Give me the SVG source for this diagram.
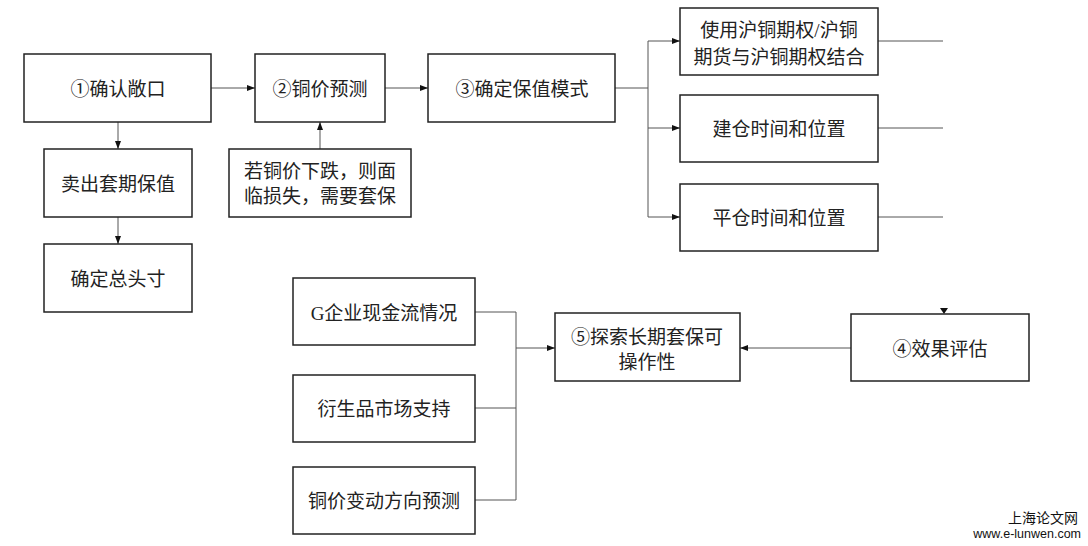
<svg xmlns="http://www.w3.org/2000/svg" width="1088" height="546" viewBox="0 0 1088 546">
<style>
.box{fill:#fff;stroke:#222;stroke-width:1.5}
.t{font-family:"Liberation Serif","Noto Sans CJK SC",serif;font-size:19px;fill:#222;text-anchor:middle;dominant-baseline:central}
.c{fill:none;stroke:#555;stroke-width:1}
.wm{font-family:"Liberation Sans","Noto Sans CJK SC",sans-serif;fill:#111;text-anchor:end}
</style>
<defs>
<marker id="ah" viewBox="0 0 8 8" refX="8" refY="4" markerWidth="8" markerHeight="8" markerUnits="userSpaceOnUse" orient="auto">
<path d="M0,1 L8,4 L0,7 z" fill="#111"/>
</marker>
</defs>
<rect width="1088" height="546" fill="#fff"/>
<g id="connectors">
<path class="c" d="M211,88 H255" marker-end="url(#ah)"/>
<path class="c" d="M385,88 H428" marker-end="url(#ah)"/>
<path class="c" d="M118,122 V149" marker-end="url(#ah)"/>
<path class="c" d="M118,217 V244" marker-end="url(#ah)"/>
<path class="c" d="M320,149 V122" marker-end="url(#ah)"/>
<path class="c" d="M615,88 H648"/>
<path class="c" d="M648,41 V217"/>
<path class="c" d="M648,41 H680" marker-end="url(#ah)"/>
<path class="c" d="M648,128 H680" marker-end="url(#ah)"/>
<path class="c" d="M648,217 H680" marker-end="url(#ah)"/>
<path class="c" d="M878,41 H943"/>
<path class="c" d="M878,128 H943"/>
<path class="c" d="M878,217 H943"/>
<path d="M940,308 L948,308 L944,314 z" fill="#111"/>
<path class="c" d="M475,312 H516"/>
<path class="c" d="M475,408 H516"/>
<path class="c" d="M475,500 H516"/>
<path class="c" d="M516,312 V500"/>
<path class="c" d="M516,348 H555" marker-end="url(#ah)"/>
<path class="c" d="M851,348 H740" marker-end="url(#ah)"/>
</g>
<g id="n1"><rect class="box" x="24" y="54" width="187" height="68"/><text class="t" x="118" y="89">①确认敞口</text></g>
<g id="n2"><rect class="box" x="255" y="54" width="130" height="68"/><text class="t" x="320" y="89">②铜价预测</text></g>
<g id="n3"><rect class="box" x="428" y="54" width="187" height="68"/><text class="t" x="522" y="89">③确定保值模式</text></g>
<g id="n_sell"><rect class="box" x="44" y="149" width="148" height="68"/><text class="t" x="118" y="184">卖出套期保值</text></g>
<g id="n_pos"><rect class="box" x="44" y="244" width="148" height="68"/><text class="t" x="118" y="279">确定总头寸</text></g>
<g id="n_fall"><rect class="box" x="229" y="149" width="182" height="68"/><text class="t" x="320" y="171">若铜价下跌，则面</text><text class="t" x="320" y="196">临损失，需要套保</text></g>
<g id="n_use"><rect class="box" x="680" y="8" width="198" height="67"/><text class="t" x="779" y="30">使用沪铜期权/沪铜</text><text class="t" x="779" y="57">期货与沪铜期权结合</text></g>
<g id="n_open"><rect class="box" x="680" y="95" width="198" height="67"/><text class="t" x="779" y="129">建仓时间和位置</text></g>
<g id="n_close"><rect class="box" x="680" y="184" width="198" height="67"/><text class="t" x="779" y="218">平仓时间和位置</text></g>
<g id="n4"><rect class="box" x="851" y="314" width="178" height="67"/><text class="t" x="940" y="349">④效果评估</text></g>
<g id="n5"><rect class="box" x="555" y="313" width="185" height="68"/><text class="t" x="647" y="337">⑤探索长期套保可</text><text class="t" x="647" y="362">操作性</text></g>
<g id="n_cash"><rect class="box" x="293" y="278" width="182" height="67"/><text class="t" x="384" y="313">G企业现金流情况</text></g>
<g id="n_deriv"><rect class="box" x="293" y="375" width="182" height="67"/><text class="t" x="384" y="409">衍生品市场支持</text></g>
<g id="n_dir"><rect class="box" x="293" y="467" width="182" height="67"/><text class="t" x="384" y="501">铜价变动方向预测</text></g>
<g id="watermark">
<text class="wm" x="1078" y="523" font-size="14">上海论文网</text>
<text class="wm" x="1081" y="538" font-size="12.5">www.e-lunwen.com</text>
</g>
</svg>
